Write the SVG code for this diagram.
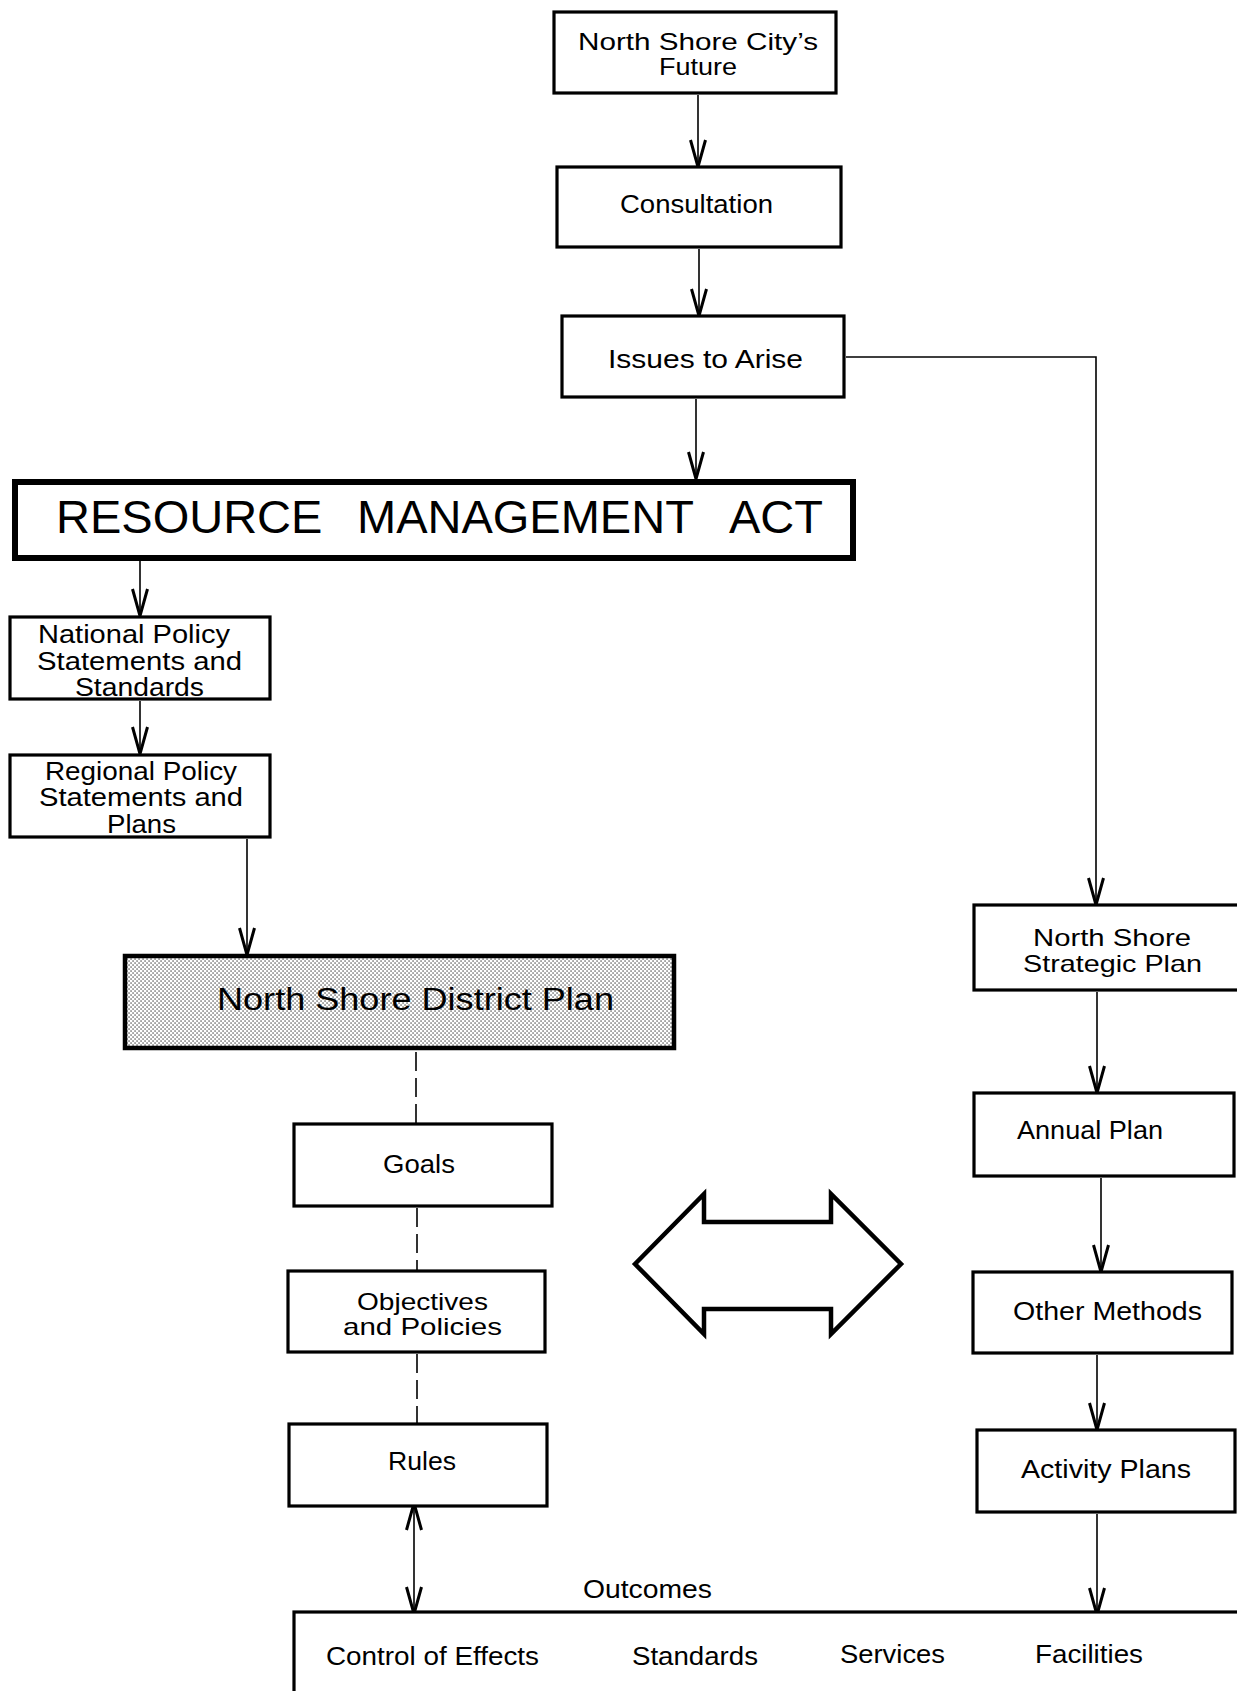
<svg xmlns="http://www.w3.org/2000/svg" width="1237" height="1691" viewBox="0 0 1237 1691">
<style>
  .box { fill: #fff; stroke: #000; stroke-width: 3.2; }
  .thick { fill: #fff; stroke: #000; stroke-width: 6; }
  .dp { fill: url(#stipple); stroke: #000; stroke-width: 4.5; }
  .t { font-family: "Liberation Sans", Arial, sans-serif; font-size: 26px; fill: #000; }
  .sm { font-size: 25px; }
  .two { font-size: 24px; }
  .big { font-size: 47px; }
  .dpt { font-size: 31px; }
  .conn { fill: none; stroke: #000; stroke-width: 1.6; }
  .dash { fill: none; stroke: #000; stroke-width: 1.6; stroke-dasharray: 19 7; }
  .arr { marker-end: url(#vhead); }
</style>
<defs>
  <pattern id="stipple" width="4" height="4" patternUnits="userSpaceOnUse">
    <rect width="4" height="4" fill="#fff"/>
    <rect x="0.4" y="0.4" width="1.3" height="1.3" fill="#444"/>
    <rect x="2.4" y="2.4" width="1.3" height="1.3" fill="#444"/>
  </pattern>
  <marker id="vhead" markerUnits="userSpaceOnUse" markerWidth="40" markerHeight="30" refX="0" refY="0" viewBox="-30 -15 40 30" orient="auto-start-reverse" overflow="visible">
    <path d="M-27,-7.5 L0,0 L-27,7.5" fill="none" stroke="#000" stroke-width="3" stroke-linejoin="miter"/>
  </marker>
</defs>

<g id="connectors">
  <line class="conn arr" x1="698" y1="95" x2="698" y2="167"/>
  <line class="conn arr" x1="699" y1="249" x2="699" y2="316"/>
  <line class="conn arr" x1="696" y1="399" x2="696" y2="479"/>
  <polyline class="conn arr" points="846,357 1096,357 1096,905"/>
  <line class="conn arr" x1="140" y1="561" x2="140" y2="616"/>
  <line class="conn arr" x1="140" y1="701" x2="140" y2="754"/>
  <line class="conn arr" x1="247" y1="839" x2="247" y2="955"/>
  <line class="dash" x1="416" y1="1052" x2="416" y2="1123"/>
  <line class="dash" x1="417" y1="1208" x2="417" y2="1270"/>
  <line class="dash" x1="417" y1="1354" x2="417" y2="1423"/>
  <line class="conn" x1="414" y1="1503" x2="414" y2="1614" marker-start="url(#vhead)" marker-end="url(#vhead)"/>
  <line class="conn arr" x1="1097" y1="992" x2="1097" y2="1093"/>
  <line class="conn arr" x1="1101" y1="1178" x2="1101" y2="1272"/>
  <line class="conn arr" x1="1097" y1="1355" x2="1097" y2="1430"/>
  <line class="conn arr" x1="1097" y1="1514" x2="1097" y2="1615"/>
</g>

<g id="node-future">
  <rect class="box" x="554" y="12" width="282" height="81"/>
  <text class="t two" x="578" y="50" textLength="240" lengthAdjust="spacingAndGlyphs">North Shore City’s</text>
  <text class="t two" x="659" y="75" textLength="78" lengthAdjust="spacingAndGlyphs">Future</text>
</g>

<g id="node-consultation">
  <rect class="box" x="557" y="167" width="284" height="80"/>
  <text class="t" x="620" y="213" textLength="153" lengthAdjust="spacingAndGlyphs">Consultation</text>
</g>

<g id="node-issues">
  <rect class="box" x="562" y="316" width="282" height="81"/>
  <text class="t" x="608" y="368" textLength="195" lengthAdjust="spacingAndGlyphs">Issues to Arise</text>
</g>

<g id="node-rma">
  <rect class="thick" x="15" y="482" width="838" height="76"/>
  <text class="t big" y="533"><tspan x="56">RESOURCE</tspan> <tspan x="357">MANAGEMENT</tspan> <tspan x="729">ACT</tspan></text>
</g>

<g id="node-national">
  <rect class="box" x="10" y="617" width="260" height="82"/>
  <text class="t sm" x="38" y="643" textLength="192" lengthAdjust="spacingAndGlyphs">National Policy</text>
  <text class="t sm" x="37" y="670" textLength="205" lengthAdjust="spacingAndGlyphs">Statements and</text>
  <text class="t sm" x="75" y="696" textLength="129" lengthAdjust="spacingAndGlyphs">Standards</text>
</g>

<g id="node-regional">
  <rect class="box" x="10" y="755" width="260" height="82"/>
  <text class="t sm" x="45" y="780" textLength="192" lengthAdjust="spacingAndGlyphs">Regional Policy</text>
  <text class="t sm" x="39" y="806" textLength="204" lengthAdjust="spacingAndGlyphs">Statements and</text>
  <text class="t sm" x="107" y="833" textLength="69" lengthAdjust="spacingAndGlyphs">Plans</text>
</g>

<g id="node-district-plan">
  <rect class="dp" x="125" y="956" width="549" height="92"/>
  <text class="t dpt" x="217" y="1010" textLength="397" lengthAdjust="spacingAndGlyphs">North Shore District Plan</text>
</g>

<g id="node-goals">
  <rect class="box" x="294" y="1124" width="258" height="82"/>
  <text class="t" x="383" y="1173" textLength="72" lengthAdjust="spacingAndGlyphs">Goals</text>
</g>

<g id="node-objectives">
  <rect class="box" x="288" y="1271" width="257" height="81"/>
  <text class="t two" x="357" y="1310" textLength="131" lengthAdjust="spacingAndGlyphs">Objectives</text>
  <text class="t two" x="343" y="1335" textLength="159" lengthAdjust="spacingAndGlyphs">and Policies</text>
</g>

<g id="node-rules">
  <rect class="box" x="289" y="1424" width="258" height="82"/>
  <text class="t" x="388" y="1470" textLength="68" lengthAdjust="spacingAndGlyphs">Rules</text>
</g>

<g id="node-double-arrow">
  <polygon points="635,1264 704,1194 704,1222 831,1222 831,1194 901,1264 831,1334 831,1309 704,1309 704,1334" fill="#fff" stroke="#000" stroke-width="4.5" stroke-linejoin="miter"/>
</g>

<g id="node-strategic">
  <rect class="box" x="974" y="905" width="270" height="85"/>
  <text class="t two" x="1033" y="946" textLength="158" lengthAdjust="spacingAndGlyphs">North Shore</text>
  <text class="t two" x="1023" y="972" textLength="179" lengthAdjust="spacingAndGlyphs">Strategic Plan</text>
</g>

<g id="node-annual">
  <rect class="box" x="974" y="1093" width="260" height="83"/>
  <text class="t" x="1017" y="1139" textLength="146" lengthAdjust="spacingAndGlyphs">Annual Plan</text>
</g>

<g id="node-other-methods">
  <rect class="box" x="973" y="1272" width="259" height="81"/>
  <text class="t" x="1013" y="1320" textLength="189" lengthAdjust="spacingAndGlyphs">Other Methods</text>
</g>

<g id="node-activity">
  <rect class="box" x="977" y="1430" width="258" height="82"/>
  <text class="t" x="1021" y="1478" textLength="170" lengthAdjust="spacingAndGlyphs">Activity Plans</text>
</g>

<g id="node-outcomes">
  <text class="t" x="583" y="1598" textLength="129" lengthAdjust="spacingAndGlyphs">Outcomes</text>
  <rect class="box" x="294" y="1612" width="960" height="120"/>
  <text class="t" x="326" y="1665" textLength="213" lengthAdjust="spacingAndGlyphs">Control of Effects</text>
  <text class="t" x="632" y="1665" textLength="126" lengthAdjust="spacingAndGlyphs">Standards</text>
  <text class="t" x="840" y="1663" textLength="105" lengthAdjust="spacingAndGlyphs">Services</text>
  <text class="t" x="1035" y="1663" textLength="108" lengthAdjust="spacingAndGlyphs">Facilities</text>
</g>
</svg>
